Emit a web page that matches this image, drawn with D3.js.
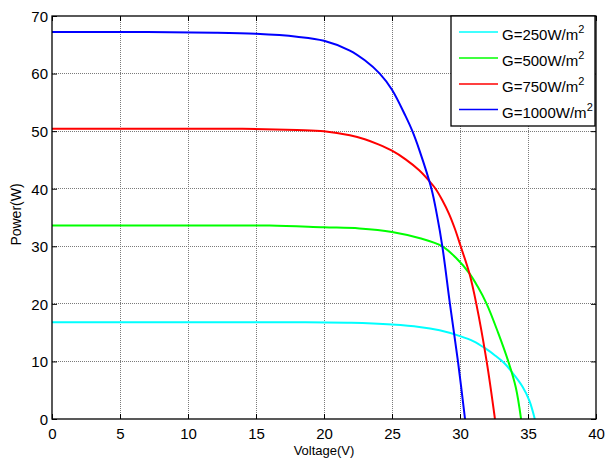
<!DOCTYPE html>
<html>
<head>
<meta charset="utf-8">
<script src="https://cdn.jsdelivr.net/npm/d3@7"></script>
<style>
  html, body { margin: 0; padding: 0; background: #fff; }
  text { font-family: Arial, "Liberation Sans", Helvetica, sans-serif; }
</style>
</head>
<body>
<svg id="chart" width="606" height="463"></svg>
<script>
// ---- data ----
const xTicks = [0, 5, 10, 15, 20, 25, 30, 35, 40];
const yTicks = [0, 10, 20, 30, 40, 50, 60, 70];
const seriesNames = ["G=250W/m", "G=500W/m", "G=750W/m", "G=1000W/m"];
const seriesColors = ["#00ffff", "#00ff00", "#ff0000", "#0000ff"];

const v250 = [0, 10, 18, 22, 25, 27, 28.5, 30, 31, 31.84, 32.6, 33.3, 34, 34.6, 35.1, 35.5];
const p250 = [16.8, 16.8, 16.8, 16.7, 16.4, 16.0, 15.4, 14.4, 13.5, 12.3, 11.0, 9.6, 7.6, 5.6, 3.2, 0];

const v500 = [0, 10, 16, 20, 22.6, 25, 27.06, 28.7, 29.7, 30.69, 31.3, 31.96, 32.8, 33.55, 34.1, 34.49];
const p500 = [33.6, 33.6, 33.6, 33.3, 33.1, 32.5, 31.4, 30.0, 28.0, 25.3, 23.0, 20.0, 15.0, 10.0, 5.5, 0];

const v750 = [0, 10, 14, 18, 20, 21.9, 23, 24, 25, 26, 27, 27.6, 28.2, 28.7, 29.2, 29.63, 30.05, 30.69, 31.2, 31.96, 32.57];
const p750 = [50.4, 50.4, 50.4, 50.2, 50.0, 49.3, 48.6, 47.7, 46.6, 45.1, 43.2, 41.7, 40.0, 38.0, 35.6, 33.0, 30.0, 25.3, 20.0, 10.0, 0];

const v1000 = [0, 7, 12, 15, 18, 20, 21.9, 23, 24.1, 25, 26, 26.5, 27, 27.9, 28.3, 28.7, 29.26, 29.85, 30.37];
const p1000 = [67.2, 67.2, 67.1, 66.9, 66.4, 65.7, 64.0, 62.3, 60.0, 57.2, 52.6, 50.0, 46.8, 40.0, 35.5, 30.0, 20.0, 10.0, 0];

const seriesV = [v250, v500, v750, v1000];
const seriesP = [p250, p500, p750, p1000];

// ---- layout ----
const svg = d3.select("#chart");
const L = 52, R = 596, T = 16, B = 419;

const x = d3.scaleLinear().domain([0, 40]).range([L, R]);
const y = d3.scaleLinear().domain([0, 70]).range([B, T]);

svg.append("rect").attr("width", 606).attr("height", 463).attr("fill", "#fff");

// grid
const grid = svg.append("g");
grid.selectAll("line.gx").data(xTicks.slice(1, -1)).enter().append("line")
  .attr("x1", d => x(d)).attr("x2", d => x(d)).attr("y1", T).attr("y2", B)
  .attr("stroke", "#7a7a7a").attr("stroke-width", 1).attr("stroke-dasharray", "1,1")
  .attr("shape-rendering", "crispEdges");
grid.selectAll("line.gy").data(yTicks.slice(1, -1)).enter().append("line")
  .attr("y1", d => y(d)).attr("y2", d => y(d)).attr("x1", L).attr("x2", R)
  .attr("stroke", "#7a7a7a").attr("stroke-width", 1).attr("stroke-dasharray", "1,1")
  .attr("shape-rendering", "crispEdges");

// clip
svg.append("clipPath").attr("id", "clip").append("rect")
  .attr("x", L).attr("y", T - 2).attr("width", R - L).attr("height", B - T + 2);

// lines
const line = d3.line().x(d => x(d[0])).y(d => y(d[1])).curve(d3.curveCatmullRom.alpha(0.5));
const plot = svg.append("g").attr("clip-path", "url(#clip)");
seriesV.forEach((vs, i) => {
  const pts = vs.map((v, j) => [v, seriesP[i][j]]);
  plot.append("path").datum(pts)
    .attr("d", line)
    .attr("fill", "none")
    .attr("stroke", seriesColors[i])
    .attr("stroke-width", 2);
});

// axes with inward ticks
const tickLen = 5;
const axB = svg.append("g").attr("transform", `translate(0,${B})`)
  .call(d3.axisBottom(x).tickValues(xTicks).tickSizeInner(-tickLen).tickSizeOuter(0).tickPadding(8));
const axT = svg.append("g").attr("transform", `translate(0,${T})`)
  .call(d3.axisTop(x).tickValues(xTicks).tickSizeInner(-tickLen).tickSizeOuter(0).tickFormat(""));
const axL = svg.append("g").attr("transform", `translate(${L},0)`)
  .call(d3.axisLeft(y).tickValues(yTicks).tickSizeInner(-tickLen).tickSizeOuter(0).tickPadding(4));
const axR = svg.append("g").attr("transform", `translate(${R},0)`)
  .call(d3.axisRight(y).tickValues(yTicks).tickSizeInner(-tickLen).tickSizeOuter(0).tickFormat(""));

[axB, axT, axL, axR].forEach(a => {
  a.select(".domain").remove();
  a.selectAll("line").attr("stroke", "#000");
  a.selectAll("text").attr("fill", "#000").style("font-size", "15px")
    .style("font-family", "Arial, 'Liberation Sans', sans-serif");
});
axB.selectAll("text").attr("dy", "0.71em").attr("y", 9);
axL.selectAll("text").attr("x", -4).attr("dy", "0.36em");

// frame
svg.append("rect").attr("x", L).attr("y", T).attr("width", R - L).attr("height", B - T)
  .attr("fill", "none").attr("stroke", "#000").attr("stroke-width", 1.3);

// axis titles
svg.append("text").attr("x", x(20)).attr("y", 455)
  .attr("text-anchor", "middle").style("font-size", "13px").text("Voltage(V)");
svg.append("text").attr("transform", `translate(21,${(T + B) / 2 - 3}) rotate(-90)`)
  .attr("text-anchor", "middle").style("font-size", "14px").text("Power(W)");

// legend
const lg = svg.append("g");
lg.append("rect").attr("x", 451).attr("y", T).attr("width", 144).attr("height", 110)
  .attr("fill", "#fff").attr("stroke", "#000").attr("stroke-width", 1.3);
const rowY = [32, 58, 84, 109.5];
seriesNames.forEach((name, i) => {
  lg.append("line").attr("x1", 459).attr("x2", 498).attr("y1", rowY[i]).attr("y2", rowY[i])
    .attr("stroke", seriesColors[i]).attr("stroke-width", 1.5);
  const t = lg.append("text").attr("x", 502).attr("y", rowY[i] + 8).style("font-size", "15px");
  t.append("tspan").text(name);
  t.append("tspan").attr("dy", -7).style("font-size", "11px").text("2");
});
</script>
</body>
</html>
